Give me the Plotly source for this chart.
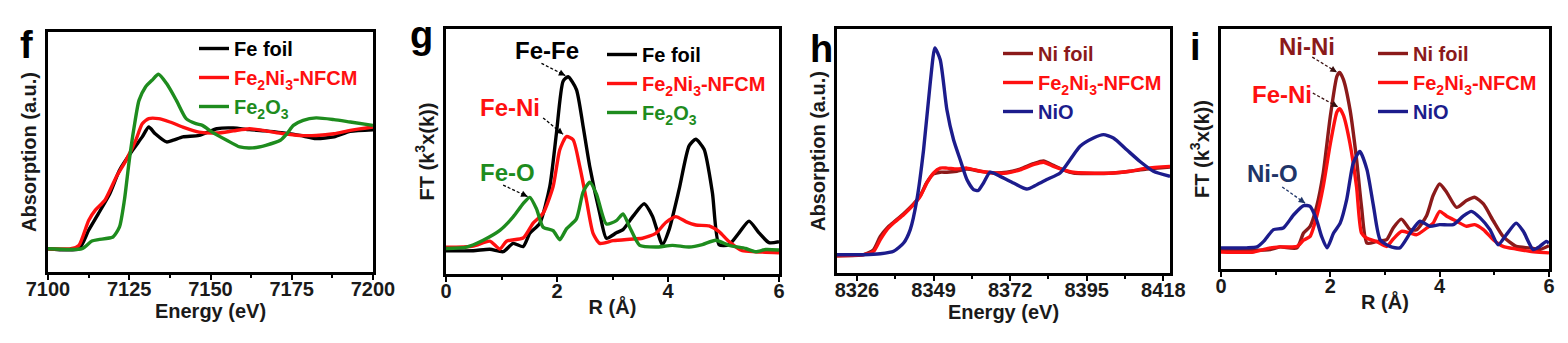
import plotly.graph_objects as go

# ---------------- Panel f : Fe K-edge XANES ----------------
f_fefoil_E = [7100, 7109.5, 7112.5, 7115.5, 7119, 7122, 7126, 7129, 7131, 7133, 7136.5, 7138.5,
              7141.5, 7146.5, 7152, 7157, 7162, 7167, 7172.5, 7177.5, 7182.5, 7188, 7193, 7200]
f_fefoil_A = [9.7, 9.7, 17.4, 24.3, 32.6, 42.4, 50.7, 56.3, 60.4, 57.6, 54.2, 54.9,
              56.3, 56.9, 59.7, 60.0, 59.3, 58.8, 57.9, 56.9, 55.6, 56.3, 58.6, 59.3]
f_nfcm_E = [7100, 7107, 7109.5, 7112.5, 7114.5, 7117.5, 7121, 7124, 7127, 7129, 7131, 7134,
            7137.5, 7141.5, 7146.5, 7152, 7157, 7162, 7167, 7172.5, 7177.5, 7182.5, 7188, 7193, 7200]
f_nfcm_A = [9.7, 9.7, 11.1, 21.5, 25.7, 29.9, 39.6, 46.5, 54.9, 61.8, 63.9, 63.9,
            62.5, 60.4, 58.3, 57.9, 58.8, 59.7, 58.8, 57.6, 56.9, 56.9, 57.6, 59.0, 60.4]
f_fe2o3_E = [7100, 7110.5, 7113.5, 7115.5, 7120, 7122, 7123.5, 7125, 7126.5, 7128, 7130, 7132,
             7134, 7136.5, 7139.5, 7142.5, 7145.5, 7147.5, 7150.5, 7155, 7159, 7163, 7167,
             7171.5, 7173.5, 7175.5, 7178.5, 7182.5, 7188, 7193, 7200]
f_fe2o3_A = [9.7, 9.7, 12.9, 13.5, 14.6, 18.8, 29.9, 46.5, 60.4, 71.5, 77.1, 79.9,
             82.4, 78.5, 71.5, 63.9, 61.8, 61.1, 58.3, 54.9, 52.1, 51.7, 52.8,
             54.9, 57.6, 61.1, 63.2, 64.2, 63.5, 62.5, 61.1]

# ---------------- Panel g : Fe K-edge FT-EXAFS ----------------
g_fefoil_R = [0.00, 0.49, 0.79, 1.03, 1.21, 1.39, 1.51, 1.69, 1.87, 1.99, 2.11, 2.20, 2.35, 2.47,
              2.59, 2.77, 2.89, 3.07, 3.19, 3.37, 3.57, 3.72, 3.90, 4.02, 4.20, 4.38, 4.50,
              4.65, 4.80, 4.92, 5.10, 5.28, 5.46, 5.64, 5.82, 6.00]
g_fefoil_I = [9.5, 9.5, 10.1, 9.1, 12.5, 11.2, 16.6, 20.7, 35.7, 57.5, 78.7, 80.5, 75.3, 60.3,
              43.9, 24.8, 14.6, 16.8, 18.1, 23.6, 28.7, 23.6, 12.0, 18.1, 34.5, 52.3, 55.0,
              50.9, 33.2, 12.0, 12.0, 16.8, 21.6, 16.8, 12.8, 13.2]
g_nfcm_R = [0.00, 0.49, 0.79, 0.97, 1.09, 1.39, 1.57, 1.75, 1.93, 2.05, 2.17, 2.29, 2.41, 2.53,
            2.65, 2.77, 3.01, 3.31, 3.54, 3.78, 3.96, 4.14, 4.32, 4.50, 4.74, 4.92, 5.10,
            5.34, 5.58, 6.00]
g_nfcm_I = [10.9, 11.4, 13.4, 10.2, 13.4, 14.7, 20.8, 24.8, 35.7, 50.7, 56.1, 54.8, 43.9, 30.2,
            16.6, 12.5, 13.6, 14.2, 14.6, 16.6, 21.0, 23.4, 21.4, 20.0, 19.6, 17.3, 13.2,
            9.5, 9.1, 8.7]
g_fe2o3_R = [0.00, 0.37, 0.67, 0.97, 1.21, 1.39, 1.51, 1.63, 1.75, 1.93, 2.05, 2.17, 2.35, 2.47,
             2.59, 2.71, 2.89, 3.07, 3.19, 3.31, 3.49, 3.78, 4.08, 4.38, 4.62, 4.86, 5.10,
             5.40, 5.58, 5.76, 6.00]
g_fe2o3_I = [10.4, 11.0, 13.8, 17.8, 23.3, 28.7, 31.3, 26.6, 19.1, 17.7, 14.0, 18.4, 22.5, 33.4,
             37.5, 32.7, 20.4, 21.8, 24.5, 19.1, 11.7, 11.0, 11.7, 11.0, 12.0, 13.8, 11.7,
             10.4, 9.1, 10.0, 9.8]

# ---------------- Panel h : Ni K-edge XANES ----------------
h_E = [8320, 8328, 8331, 8333, 8335, 8337, 8340, 8343, 8345, 8347, 8349, 8351, 8353, 8356,
       8359, 8363, 8367, 8371, 8375, 8379, 8382, 8385, 8388, 8391, 8395, 8403, 8408, 8413, 8420]
h_nifoil_A = [7.1, 7.5, 9.6, 15.0, 18.4, 20.8, 24.3, 28.3, 31.7, 37.2, 40.6, 41.3, 41.3, 41.7,
              42.6, 41.7, 41.0, 41.3, 42.6, 44.8, 45.9, 44.1, 42.3, 41.0, 40.8, 41.0, 41.7, 42.6, 43.4]
h_nfcm_A = [7.1, 7.5, 8.9, 13.7, 17.8, 20.5, 23.9, 28.0, 31.4, 36.9, 41.0, 43.0, 43.0, 42.6,
            43.0, 41.7, 41.0, 41.0, 42.3, 44.4, 45.4, 43.7, 42.3, 41.3, 41.0, 41.0, 41.7, 43.0, 43.7]
h_nio_E = [8320, 8328, 8333, 8337, 8340, 8342, 8344, 8346, 8348, 8349.4, 8351, 8353, 8355, 8357,
           8359, 8361, 8362.4, 8364, 8366, 8369, 8373, 8377, 8380, 8383, 8387, 8390, 8393,
           8397, 8400, 8403, 8407, 8411, 8415, 8420]
h_nio_A = [7.5, 7.5, 7.9, 8.9, 12.3, 17.8, 30.1, 50.5, 77.9, 92.2, 87.4, 66.9, 54.6, 46.4,
           38.3, 34.2, 33.8, 36.9, 41.3, 39.6, 36.9, 34.4, 36.2, 38.3, 41.0, 46.4, 51.9,
           55.3, 56.7, 55.3, 50.5, 45.7, 41.7, 39.6]

# ---------------- Panel i : Ni K-edge FT-EXAFS ----------------
i_R = [0.00, 0.60, 0.90, 1.08, 1.39, 1.51, 1.63, 1.75, 1.87, 2.00, 2.12, 2.17, 2.24, 2.36,
       2.48, 2.57, 2.67, 2.85, 3.03, 3.15, 3.30, 3.46, 3.58, 3.76, 3.88, 4.00, 4.13, 4.31,
       4.49, 4.64, 4.80, 4.98, 5.16, 5.40, 5.65, 5.83, 6.00]
i_nifoil_I = [7.8, 7.8, 8.1, 9.2, 8.8, 15.0, 17.8, 26.1, 40.0, 63.6, 80.3, 81.9, 78.9, 66.4,
              45.6, 26.1, 10.8, 11.5, 12.2, 17.1, 20.8, 16.4, 16.4, 22.2, 30.6, 35.4, 31.9, 25.7,
              28.5, 29.9, 27.1, 20.1, 13.6, 9.4, 8.8, 8.1, 9.7]
i_nfcm_I = [7.1, 7.1, 8.8, 9.2, 9.4, 12.0, 13.6, 21.9, 34.4, 52.2, 65.4, 66.8, 64.0, 52.2,
            34.2, 15.0, 12.8, 11.4, 9.4, 12.5, 15.7, 15.0, 14.3, 17.0, 19.1, 24.0, 22.0, 19.9,
            17.8, 18.5, 16.4, 12.2, 9.4, 8.3, 7.4, 7.0, 6.7]
i_nio_R = [0.00, 0.47, 0.66, 0.78, 0.96, 1.14, 1.33, 1.51, 1.63, 1.75, 1.84, 1.94, 2.06, 2.18,
           2.30, 2.42, 2.54, 2.67, 2.79, 2.91, 3.09, 3.27, 3.46, 3.64, 3.82, 4.00, 4.25, 4.43,
           4.58, 4.74, 4.92, 5.07, 5.22, 5.40, 5.53, 5.71, 5.83, 5.95, 6.00]
i_nio_I = [8.8, 8.8, 9.2, 11.5, 16.4, 17.1, 22.6, 26.4, 26.1, 20.4, 13.6, 8.8, 15.0, 19.1,
           29.0, 44.2, 49.0, 41.4, 26.1, 12.2, 9.4, 8.8, 15.0, 19.9, 17.8, 18.5, 18.5, 22.0,
           24.0, 21.3, 16.4, 10.1, 14.3, 19.1, 15.7, 8.1, 9.4, 11.5, 10.8]

# ---------------- labels ----------------
XANES_TICKS_F = [7100, 7125, 7150, 7175, 7200]
XANES_TICKS_H = [8326, 8349, 8372, 8395, 8418]
R_TICKS = [0, 2, 4, 6]

BLACK = "#000000"
RED = "#FF1010"
GREEN = "#1E8C1E"
DRED = "#8B1A1A"
NAVY = "#1C1C8C"
NAVY_TXT = "#1F3568"

FONT = "Liberation Sans"
LW = 3.4

def nm(txt, col):
    return f"<span style='color:{col}'>{txt}</span>"

fig = go.Figure()

def add(x, y, color, name, xa, ya, legend):
    fig.add_trace(go.Scatter(x=x, y=y, mode="lines", name=nm(name, color),
                             line=dict(color=color, width=LW, shape="spline", smoothing=0.6),
                             xaxis=xa, yaxis=ya, legend=legend, showlegend=True))

NFCM = "Fe<sub>2</sub>Ni<sub>3</sub>-NFCM"
add(f_fefoil_E, f_fefoil_A, BLACK, "Fe foil", "x", "y", "legend")
add(f_nfcm_E, f_nfcm_A, RED, NFCM, "x", "y", "legend")
add(f_fe2o3_E, f_fe2o3_A, GREEN, "Fe<sub>2</sub>O<sub>3</sub>", "x", "y", "legend")

add(g_fefoil_R, g_fefoil_I, BLACK, "Fe foil", "x2", "y2", "legend2")
add(g_nfcm_R, g_nfcm_I, RED, NFCM, "x2", "y2", "legend2")
add(g_fe2o3_R, g_fe2o3_I, GREEN, "Fe<sub>2</sub>O<sub>3</sub>", "x2", "y2", "legend2")

add(h_E, h_nifoil_A, DRED, "Ni foil", "x3", "y3", "legend3")
add(h_E, h_nfcm_A, RED, NFCM, "x3", "y3", "legend3")
add(h_nio_E, h_nio_A, NAVY, "NiO", "x3", "y3", "legend3")

add(i_R, i_nifoil_I, DRED, "Ni foil", "x4", "y4", "legend4")
add(i_R, i_nfcm_I, RED, NFCM, "x4", "y4", "legend4")
add(i_nio_R, i_nio_I, NAVY, "NiO", "x4", "y4", "legend4")

W, H = 1568, 343
def px(xp): return xp / W
def py(yp): return (H - yp) / H

axis_common = dict(showline=True, linecolor="black", linewidth=2.5, mirror=True,
                   showgrid=False, zeroline=False, automargin=False)
tickfont = dict(family=FONT, size=20, color="#1a1a1a", weight="bold")
titlefont = dict(family=FONT, size=20, color="#1a1a1a", weight="bold")

def xaxis(dom, rng, tickvals, minor_dtick, title):
    return dict(domain=dom, range=rng, tickmode="array", tickvals=tickvals,
                ticks="outside", ticklen=5, tickwidth=2, tickcolor="black",
                ticklabelstandoff=-8,
                minor=dict(ticks="outside", ticklen=3, tickwidth=2, tickcolor="black",
                           dtick=minor_dtick, tick0=tickvals[0]),
                tickfont=tickfont, title=dict(text=title, font=titlefont, standoff=0),
                **axis_common)

def yaxis(dom, title, anchor):
    return dict(domain=dom, range=[0, 100], showticklabels=False, ticks="",
                title=dict(text=title, font=titlefont, standoff=4), anchor=anchor,
                **axis_common)

SP = "\u00a0"
ENERGY = SP * 4 + "Energy (eV)"
RTITLE = "R (Å)"
FT = "FT (k<sup>3</sup>x(k))"
ABS = "Absorption (a.u.)"

fig.update_layout(
    width=W, height=H, margin=dict(l=0, r=0, t=0, b=0, autoexpand=False),
    paper_bgcolor="white", plot_bgcolor="white",
    xaxis=xaxis([px(48), px(373)], [7100, 7200], XANES_TICKS_F, 12.5, ENERGY) | dict(anchor="y"),
    yaxis=yaxis([py(272), py(32)], SP * 4 + ABS, "x"),
    xaxis2=xaxis([px(446), px(779)], [0, 6], R_TICKS, 1, RTITLE) | dict(anchor="y2"),
    yaxis2=yaxis([py(274), py(29)], FT, "x2"),
    xaxis3=xaxis([px(837), px(1170)], [8320, 8420], XANES_TICKS_H, 11.5, ENERGY) | dict(anchor="y3"),
    yaxis3=yaxis([py(273), py(29)], ABS, "x3"),
    xaxis4=xaxis([px(1221), px(1549)], [0, 6], R_TICKS, 1, RTITLE) | dict(anchor="y4"),
    yaxis4=yaxis([py(269), py(29)], FT, "x4"),
    showlegend=True,
)

legfont = dict(family=FONT, size=20, weight="bold", color="black")
def legend(xp, yp):
    return dict(x=px(xp), y=py(yp), xanchor="left", yanchor="top", bgcolor="rgba(0,0,0,0)",
                borderwidth=0, font=legfont, itemwidth=30, tracegroupgap=0, traceorder="normal")

fig.update_layout(legend=legend(194, 29), legend2=legend(602, 35),
                  legend3=legend(998, 34), legend4=legend(1373, 34))

# panel letters
for letter, xp, yp in [("f", 26, 45), ("g", 421, 35), ("h", 821, 49), ("i", 1195, 47)]:
    fig.add_annotation(text=letter, x=px(xp), y=py(yp), xref="paper", yref="paper",
                       showarrow=False, xanchor="center", yanchor="middle",
                       font=dict(family=FONT, size=38, weight="bold", color="black"))

# peak labels with dashed arrows: (text, colour, xaxis, yaxis, text pos, tail, head, arrow colour)
labels = [
    ("Fe-Fe", BLACK, "x2", "y2", (1.82, 91.4), (1.72, 86.0), (2.15, 81.0), BLACK),
    ("Fe-Ni", RED, "x2", "y2", (1.15, 67.8), (1.75, 63.7), (2.11, 57.0), BLACK),
    ("Fe-O", GREEN, "x2", "y2", (1.10, 41.6), (1.03, 36.3), (1.47, 31.6), BLACK),
    ("Ni-Ni", DRED, "x4", "y4", (1.57, 92.5), (1.67, 88.3), (2.12, 82.0), "#3a1010"),
    ("Fe-Ni", RED, "x4", "y4", (1.12, 72.5), (1.68, 73.3), (2.14, 67.5), "#3a1010"),
    ("Ni-O", NAVY_TXT, "x4", "y4", (0.95, 40.0), (1.12, 34.2), (1.54, 27.4), NAVY_TXT),
]
for txt, col, xa, ya, tpos, tail, head, acol in labels:
    fig.add_annotation(text=txt, x=tpos[0], y=tpos[1], xref=xa, yref=ya, showarrow=False,
                       xanchor="center", yanchor="middle",
                       font=dict(family=FONT, size=24, weight="bold", color=col))
    fig.add_shape(type="line", x0=tail[0], y0=tail[1], x1=head[0], y1=head[1],
                  xref=xa, yref=ya, line=dict(color=acol, width=1.3, dash="3px,2px"))
    fig.add_annotation(text="", x=head[0], y=head[1], xref=xa, yref=ya, showarrow=True,
                       axref=xa, ayref=ya,
                       ax=head[0] - (head[0] - tail[0]) * 0.25,
                       ay=head[1] - (head[1] - tail[1]) * 0.25,
                       arrowhead=2, arrowsize=1, arrowwidth=1.3, arrowcolor=acol)

fig.write_html("out.html")
